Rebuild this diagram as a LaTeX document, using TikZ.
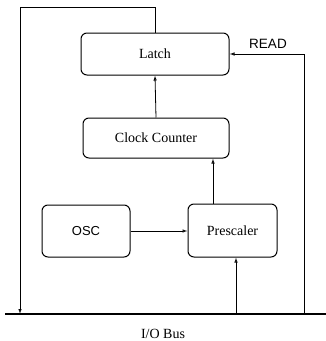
\documentclass[tikz,border=0pt]{standalone}
\usepackage{fontspec}
\setmainfont{Liberation Serif}
\newfontfamily\sansf{Liberation Sans}
\usetikzlibrary{arrows.meta}
\begin{document}
\begin{tikzpicture}[x=1pt,y=-1pt,
  blk/.style={draw,line width=1pt,rounded corners=6pt,inner sep=0pt,font=\fontsize{14}{16}\selectfont},
  conn/.style={line width=0.8pt,-{Latex[open,length=5pt,width=3.5pt]}},
  wire/.style={line width=0.8pt}]
\useasboundingbox (0,0) rectangle (326,341);
\node[blk,minimum width=148pt,minimum height=42pt] (latch) at (155,54) {Latch};
\node[blk,minimum width=146pt,minimum height=40pt] (cc) at (156,138) {Clock Counter};
\node[blk,minimum width=88pt,minimum height=52pt,font=\sansf\fontsize{13}{15}\selectfont] (osc) at (86,231) {OSC};
\node[blk,minimum width=89pt,minimum height=53pt] (pre) at (232.5,230.5) {Prescaler};
\coordinate (busL) at (5,314);
\coordinate (busR) at (326,314);
\draw[line width=1.3pt] (busL) -- (busR);
\node[font=\fontsize{14}{16}\selectfont] (buslbl) at (163,334) {I/O Bus};
% left loop
\coordinate (tl) at (155,7);
\coordinate (tll) at (20,7);
\coordinate (lb) at (20,314);
\draw[conn] (latch.north) -- (tl) -- (tll) -- (lb);
% READ
\coordinate (rb) at (304,314);
\coordinate (rt) at (304,54);
\draw[conn] (rb) -- (rt) -- (latch.east);
\node[font=\sansf\fontsize{13.5}{15}\selectfont] (readlbl) at (268,44) {READ};
% internal
\draw[conn] (cc.north) -- (latch.south);
\draw[conn] (pre.north -| 213,0) -- (cc.south -| 213,0);
\draw[conn] (osc.east) -- (pre.west |- osc.east);
\coordinate (pb) at (236,314);
\draw[conn] (pb) -- (pre.south -| pb);
\end{tikzpicture}
\end{document}
